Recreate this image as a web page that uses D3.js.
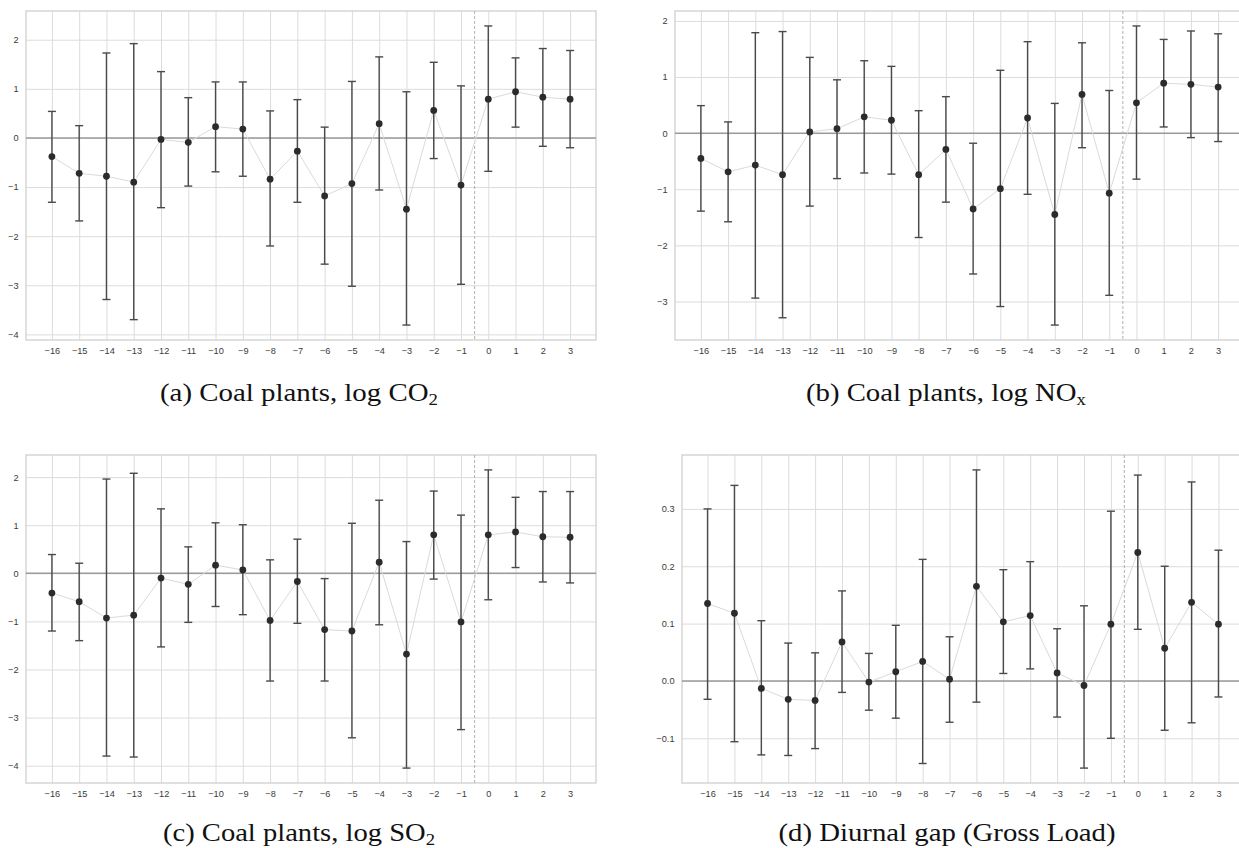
<!DOCTYPE html>
<html>
<head>
<meta charset="utf-8">
<script src="https://cdn.jsdelivr.net/npm/d3@7"></script>
<style>
  html, body { margin: 0; padding: 0; background: #fff; }
  .tick text { font-family: "Liberation Sans", Arial, sans-serif; font-size: 9.2px; fill: #3a3a3a; }
  .caption { font-family: "Liberation Serif", "Times New Roman", serif; fill: #111; }
</style>
</head>
<body>
<div class="event-study"></div>
<script>
// event time (years relative to treatment)
const periods = [-16, -15, -14, -13, -12, -11, -10, -9, -8, -7, -6, -5, -4, -3, -2, -1, 0, 1, 2, 3];

// (a) log CO2
const co2Est = [-0.38, -0.72, -0.78, -0.90, -0.03, -0.09, 0.23, 0.18, -0.84, -0.27, -1.18, -0.93, 0.29, -1.45, 0.56, -0.96, 0.79, 0.94, 0.83, 0.79];
const co2Hi = [0.54, 0.25, 1.73, 1.92, 1.35, 0.82, 1.14, 1.14, 0.55, 0.78, 0.22, 1.15, 1.65, 0.94, 1.54, 1.06, 2.28, 1.63, 1.82, 1.78];
const co2Lo = [-1.31, -1.69, -3.29, -3.70, -1.42, -0.98, -0.69, -0.78, -2.20, -1.31, -2.57, -3.02, -1.06, -3.81, -0.42, -2.98, -0.68, 0.22, -0.17, -0.20];

// (b) log NOx
const noxEst = [-0.45, -0.69, -0.57, -0.74, 0.02, 0.08, 0.29, 0.23, -0.74, -0.29, -1.35, -0.99, 0.27, -1.45, 0.69, -1.07, 0.54, 0.89, 0.87, 0.82];
const noxHi = [0.49, 0.20, 1.79, 1.81, 1.35, 0.95, 1.29, 1.19, 0.40, 0.65, -0.18, 1.12, 1.63, 0.53, 1.61, 0.76, 1.91, 1.67, 1.82, 1.77];
const noxLo = [-1.39, -1.58, -2.94, -3.29, -1.30, -0.81, -0.71, -0.73, -1.86, -1.23, -2.51, -3.09, -1.09, -3.42, -0.26, -2.89, -0.82, 0.11, -0.08, -0.15];

// (c) log SO2
const so2Est = [-0.41, -0.59, -0.93, -0.87, -0.10, -0.23, 0.17, 0.07, -0.98, -0.17, -1.17, -1.20, 0.23, -1.68, 0.80, -1.01, 0.80, 0.86, 0.76, 0.75];
const so2Hi = [0.39, 0.21, 1.96, 2.08, 1.34, 0.55, 1.05, 1.01, 0.28, 0.71, -0.11, 1.04, 1.52, 0.66, 1.71, 1.21, 2.15, 1.58, 1.70, 1.70];
const so2Lo = [-1.20, -1.40, -3.80, -3.82, -1.53, -1.02, -0.69, -0.86, -2.24, -1.04, -2.24, -3.42, -1.07, -4.05, -0.12, -3.25, -0.55, 0.12, -0.18, -0.20];

// (d) diurnal gap, gross load
const gapEst = [0.135, 0.118, -0.013, -0.032, -0.034, 0.068, -0.002, 0.016, 0.034, 0.003, 0.165, 0.103, 0.114, 0.014, -0.008, 0.099, 0.224, 0.057, 0.137, 0.099];
const gapHi = [0.300, 0.341, 0.105, 0.066, 0.049, 0.157, 0.048, 0.097, 0.212, 0.077, 0.368, 0.194, 0.208, 0.091, 0.131, 0.296, 0.359, 0.200, 0.347, 0.228];
const gapLo = [-0.032, -0.106, -0.129, -0.130, -0.118, -0.020, -0.051, -0.065, -0.144, -0.072, -0.037, 0.013, 0.021, -0.063, -0.152, -0.100, 0.090, -0.086, -0.073, -0.028];

// y tick labels
const co2Ticks = [-4, -3, -2, -1, 0, 1, 2];
const noxTicks = [-3, -2, -1, 0, 1, 2];
const so2Ticks = [-4, -3, -2, -1, 0, 1, 2];
const gapTicks = [-0.1, 0.0, 0.1, 0.2, 0.3];

// captions: [main text, subscript]
const captionA = ["(a) Coal plants, log CO", "2"];
const captionB = ["(b) Coal plants, log NO", "x"];
const captionC = ["(c) Coal plants, log SO", "2"];
const captionD = ["(d) Diurnal gap (Gross Load)", ""];

const width = 1239;
const height = 848;
const treatLine = -0.5;

const svg = d3.select(".event-study")
  .append("svg")
  .attr("width", width)
  .attr("height", height)
  .style("display", "block");

svg.append("rect")
  .attr("width", width)
  .attr("height", height)
  .attr("fill", "#fff");

// matplotlib-style autoscale: 5% margin on each side
const padded = (lo, hi) => {
  const m = (hi - lo) * 0.05;
  return [lo - m, hi + m];
}

const drawPanel = (box, est, lo, hi, yTicks, yFmt) => {
  const x = d3.scaleLinear()
    .domain(padded(d3.min(periods), d3.max(periods)))
    .range([box.x0, box.x1]);
  const y = d3.scaleLinear()
    .domain(padded(d3.min(lo), d3.max(hi)))
    .range([box.y1, box.y0]);

  const g = svg.append("g");

  // vertical grid + x labels
  const xAxis = g.append("g")
    .attr("transform", `translate(0,${box.y1})`)
    .call(d3.axisBottom(x)
      .tickValues(periods)
      .tickFormat(d3.format("d"))
      .tickSize(-(box.y1 - box.y0))
      .tickPadding(7.5));

  // horizontal grid + y labels
  const yAxis = g.append("g")
    .attr("transform", `translate(${box.x0},0)`)
    .call(d3.axisLeft(y)
      .tickValues(yTicks)
      .tickFormat(yFmt)
      .tickSize(-(box.x1 - box.x0))
      .tickPadding(7.5));

  [xAxis, yAxis].forEach(a => {
    a.select(".domain").remove();
    a.selectAll(".tick line")
      .attr("stroke", "#dcdcdc")
      .attr("stroke-width", 1);
  });

  g.append("rect")
    .attr("x", box.x0)
    .attr("y", box.y0)
    .attr("width", box.x1 - box.x0)
    .attr("height", box.y1 - box.y0)
    .attr("fill", "none")
    .attr("stroke", "#d0d0d0")
    .attr("stroke-width", 1.3);

  // zero line
  g.append("line")
    .attr("x1", box.x0)
    .attr("x2", box.x1)
    .attr("y1", y(0))
    .attr("y2", y(0))
    .attr("stroke", "#9a9a9a")
    .attr("stroke-width", 1.5);

  // treatment line
  g.append("line")
    .attr("x1", x(treatLine))
    .attr("x2", x(treatLine))
    .attr("y1", box.y0)
    .attr("y2", box.y1)
    .attr("stroke", "#b0b0b0")
    .attr("stroke-width", 1)
    .attr("stroke-dasharray", "3,2");

  const rows = periods.map((p, i) => ({ p: p, est: est[i], lo: lo[i], hi: hi[i] }));

  g.append("path")
    .datum(rows)
    .attr("fill", "none")
    .attr("stroke", "#dadada")
    .attr("stroke-width", 1)
    .attr("d", d3.line().x(d => x(d.p)).y(d => y(d.est)));

  const bars = g.selectAll(".bar")
    .data(rows)
    .enter()
    .append("g")
    .attr("stroke", "#4a4a4a")
    .attr("stroke-width", 1.4);

  bars.append("line")
    .attr("x1", d => x(d.p))
    .attr("x2", d => x(d.p))
    .attr("y1", d => y(d.lo))
    .attr("y2", d => y(d.hi));

  ["lo", "hi"].forEach(k => {
    bars.append("line")
      .attr("x1", d => x(d.p) - 4)
      .attr("x2", d => x(d.p) + 4)
      .attr("y1", d => y(d[k]))
      .attr("y2", d => y(d[k]));
  });

  g.selectAll(".pt")
    .data(rows)
    .enter()
    .append("circle")
    .attr("cx", d => x(d.p))
    .attr("cy", d => y(d.est))
    .attr("r", 3.4)
    .attr("fill", "#2b2b2b");
}

const addCaption = (cx, baseline, parts, len) => {
  const t = svg.append("text")
    .attr("class", "caption")
    .attr("x", cx)
    .attr("y", baseline)
    .attr("text-anchor", "middle")
    .attr("font-size", 26)
    .attr("textLength", len)
    .attr("lengthAdjust", "spacingAndGlyphs");
  t.append("tspan").text(parts[0]);
  if (parts[1]) {
    t.append("tspan")
      .attr("font-size", 17)
      .attr("dy", 4)
      .text(parts[1]);
  }
}

const intFmt = d3.format("d");
const decFmt = d3.format(".1f");

drawPanel({ x0: 26, x1: 596, y0: 11, y1: 340 }, co2Est, co2Lo, co2Hi, co2Ticks, intFmt);
drawPanel({ x0: 675, x1: 1244, y0: 11, y1: 340 }, noxEst, noxLo, noxHi, noxTicks, intFmt);
drawPanel({ x0: 26, x1: 596, y0: 455, y1: 783 }, so2Est, so2Lo, so2Hi, so2Ticks, intFmt);
drawPanel({ x0: 682, x1: 1244, y0: 455, y1: 783 }, gapEst, gapLo, gapHi, gapTicks, decFmt);

addCaption(299, 401, captionA, 278);
addCaption(946, 401, captionB, 280);
addCaption(299, 841, captionC, 272);
addCaption(947, 841, captionD, 337);
</script>
</body>
</html>
